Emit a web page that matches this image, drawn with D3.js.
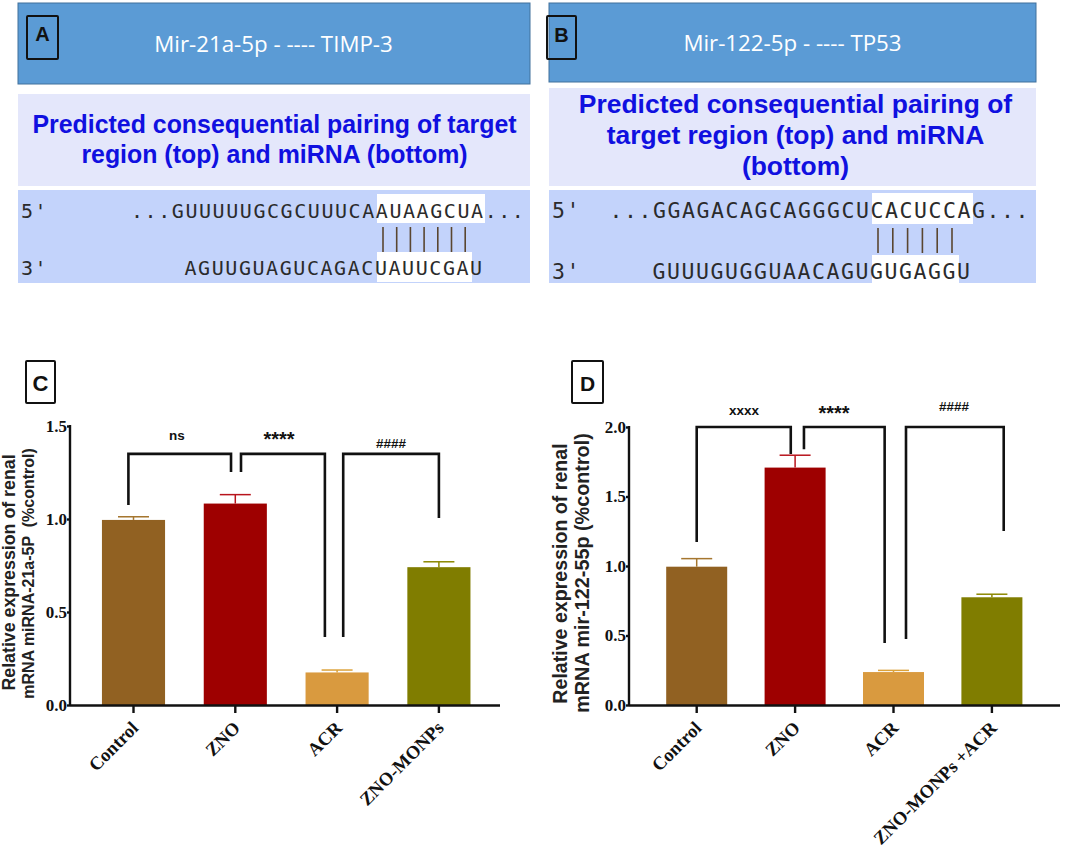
<!DOCTYPE html>
<html>
<head>
<meta charset="utf-8">
<style>
html, body { margin: 0; padding: 0; background: #fff; }
svg { display: block; }
</style>
<script src="https://cdn.jsdelivr.net/npm/d3@7"></script>
</head>
<body>
<script>
// chart values
const categoriesC = ["Control", "ZNO", "ACR", "ZNO-MONPs"];
const valuesC = [0.995, 1.083, 0.175, 0.741];
const errorTopsC = [1.012, 1.131, 0.188, 0.77];
const yTicksC = [0, 0.5, 1, 1.5];

const categoriesD = ["Control", "ZNO", "ACR", "ZNO-MONPs +ACR"];
const valuesD = [0.995, 1.708, 0.237, 0.775];
const errorTopsD = [1.053, 1.797, 0.249, 0.797];
const yTicksD = [0, 0.5, 1, 1.5, 2];

// brackets: [left index, right index, top value, left end value, right end value, label]
const bracketsC = [
    [-0.05, 0.958, 1.35, 1.075, 1.253, "ns"],
    [1.056, 1.88, 1.35, 1.253, 0.366, "****"],
    [2.06, 3.0, 1.35, 0.366, 1.005, "####"]
];
const bracketsD = [
    [0, 0.956, 2.0, 1.173, 1.806, "xxxx"],
    [1.09, 1.91, 2.0, 1.84, 0.446, "****"],
    [2.127, 3.12, 2.0, 0.475, 1.252, "####"]
];

const barColors = ["#916122", "#9e0000", "#d99a3f", "#807d00"];
const errorColors = ["#a5762f", "#b8141c", "#dca23a", "#8c8800"];

const svg = d3.select("body").append("svg").attr("width", 1065).attr("height", 849);

function drawHeader(x, w, y, h, title, titleX, titleY) {
    svg.append("rect").attr("x", x).attr("y", y).attr("width", w).attr("height", h)
        .attr("fill", "#5b9bd5").attr("stroke", "#41719c").attr("stroke-width", 1);
    svg.append("text").attr("x", titleX).attr("y", titleY)
        .attr("text-anchor", "middle")
        .attr("font-family", "'Open Sans'")
        .attr("font-size", 22.3)
        .attr("fill", "#fff")
        .text(title);
}

function drawPrediction(x, w, y, h, lines, cx, baselines, size) {
    svg.append("rect").attr("x", x).attr("y", y).attr("width", w).attr("height", h).attr("fill", "#e4e7fb");
    lines.forEach(function(line, i) {
        svg.append("text").attr("x", cx).attr("y", baselines[i])
            .attr("text-anchor", "middle")
            .attr("font-family", "'Liberation Sans'")
            .attr("font-weight", "bold")
            .attr("font-size", size)
            .attr("fill", "#1010e0")
            .text(line);
    });
}

// sequence strip with the two strands and the highlighted seed region
function drawSequence(s) {
    svg.append("rect").attr("x", s.x).attr("y", 190).attr("width", s.w).attr("height", 93).attr("fill", "#c3d3fb");
    s.highlights.forEach(function(r) {
        svg.append("rect").attr("x", r[0]).attr("y", r[1]).attr("width", r[2]).attr("height", r[3]).attr("fill", "#fff");
    });
    const mono = function(sel) {
        return sel.attr("font-family", "'DejaVu Sans Mono'")
            .attr("font-size", s.size)
            .attr("fill", "#2b2b2b")
            .style("letter-spacing", s.spacing + "px");
    };
    mono(svg.append("text")).attr("x", s.x + 3).attr("y", 218).text("5'");
    mono(svg.append("text")).attr("x", s.x + 3).attr("y", s.y3).text("3'");
    mono(svg.append("text")).attr("x", s.topX).attr("y", 218).text(s.top);
    mono(svg.append("text")).attr("x", s.bottomX).attr("y", s.y3).text(s.bottom);
    svg.selectAll(null).data(d3.range(s.pairs)).join("line")
        .attr("x1", (d) => s.pairX + d * s.pairStep)
        .attr("x2", (d) => s.pairX + d * s.pairStep)
        .attr("y1", s.pairY)
        .attr("y2", s.pairY + 25)
        .attr("stroke", "#5a4630")
        .attr("stroke-width", 1.6);
}

function drawLetterBox(x, y, w, h, letter, size, baseline) {
    svg.append("rect").attr("x", x).attr("y", y).attr("width", w).attr("height", h)
        .attr("fill", "none").attr("stroke", "#111").attr("stroke-width", 2).attr("rx", 1);
    svg.append("text").attr("x", x + w / 2).attr("y", baseline)
        .attr("text-anchor", "middle")
        .attr("font-family", "'Liberation Sans'")
        .attr("font-weight", "bold")
        .attr("font-size", size)
        .attr("fill", "#111")
        .text(letter);
}

function drawChart(c) {
    const g = svg.append("g");
    const n = c.categories.length;
    const x = d3.scaleBand().domain(c.categories)
        .range([c.first - c.step / 2, c.first + c.step * (n - 0.5)])
        .paddingInner(c.pad).paddingOuter(c.pad / 2);
    // same positions, but by category index, for the brackets
    const xIndex = d3.scaleLinear().domain([0, n - 1]).range([c.first, c.first + c.step * (n - 1)]);
    const y = d3.scaleLinear().domain([0, c.yMax]).range([705, c.yTop]);

    g.selectAll(".bar").data(c.values).join("rect")
        .attr("class", "bar")
        .attr("x", (d, i) => x(c.categories[i]))
        .attr("y", (d) => y(d))
        .attr("width", x.bandwidth())
        .attr("height", (d) => y(0) - y(d))
        .attr("fill", (d, i) => barColors[i]);

    // error bars, upper side only
    const centre = (i) => x(c.categories[i]) + x.bandwidth() / 2;
    g.selectAll(".err").data(c.errors).join("line")
        .attr("class", "err")
        .attr("x1", (d, i) => centre(i)).attr("x2", (d, i) => centre(i))
        .attr("y1", (d, i) => y(c.values[i])).attr("y2", (d) => y(d))
        .attr("stroke", (d, i) => errorColors[i]).attr("stroke-width", 1.5);
    g.selectAll(".cap").data(c.errors).join("line")
        .attr("class", "cap")
        .attr("x1", (d, i) => centre(i) - 15.5).attr("x2", (d, i) => centre(i) + 15.5)
        .attr("y1", (d) => y(d)).attr("y2", (d) => y(d))
        .attr("stroke", (d, i) => errorColors[i]).attr("stroke-width", 1.5);

    // axes
    const yAxis = g.append("g").attr("transform", "translate(" + c.axisX + ",0)")
        .call(d3.axisLeft(y).tickValues(c.yTicks).tickFormat(d3.format(".1f")).tickSize(3).tickPadding(0));
    const xAxis = g.append("g").attr("transform", "translate(0,705)")
        .call(d3.axisBottom(x).tickSize(8).tickSizeOuter(0));
    [yAxis, xAxis].forEach(function(a) {
        a.select(".domain").remove();
        a.selectAll("line").attr("stroke", "#111").attr("stroke-width", 2.4);
        a.selectAll("text")
            .attr("font-family", "'Liberation Serif'")
            .attr("font-weight", "bold")
            .attr("fill", "#111");
    });
    yAxis.selectAll("text").attr("font-size", 17).attr("dy", "0.3em");
    xAxis.selectAll("text")
        .attr("font-size", 18.5)
        .attr("text-anchor", "end")
        .attr("dy", null)
        .attr("transform", "translate(6,24) rotate(-45)")
        .attr("y", 0).attr("x", 0);
    g.append("line").attr("x1", c.axisX).attr("x2", c.axisEnd).attr("y1", 705.5).attr("y2", 705.5)
        .attr("stroke", "#111").attr("stroke-width", 2.4);
    g.append("line").attr("x1", c.axisX).attr("x2", c.axisX).attr("y1", c.yTop - 1).attr("y2", 706)
        .attr("stroke", "#111").attr("stroke-width", 2.4);

    // significance brackets
    const bracket = d3.line();
    g.selectAll(".bracket").data(c.brackets).join("path")
        .attr("class", "bracket")
        .attr("fill", "none")
        .attr("stroke", "#111")
        .attr("stroke-width", 2.6)
        .attr("d", (b) => bracket([
            [xIndex(b[0]), y(b[3])],
            [xIndex(b[0]), y(b[2])],
            [xIndex(b[1]), y(b[2])],
            [xIndex(b[1]), y(b[4])]
        ]));
    g.selectAll(".sig").data(c.brackets).join("text")
        .attr("class", "sig")
        .attr("x", (b, i) => c.sigPos[i][0])
        .attr("y", (b, i) => c.sigPos[i][1])
        .attr("text-anchor", "middle")
        .attr("font-family", "'Liberation Sans'")
        .attr("font-weight", "bold")
        .attr("font-size", (b) => b[5] == "****" ? 20 : 13.5)
        .attr("fill", "#111")
        .text((b) => b[5]);

    // two-line rotated y title
    c.yTitle.forEach(function(t) {
        g.append("text")
            .attr("transform", "translate(" + t.x + "," + t.y + ") rotate(-90)")
            .attr("text-anchor", "middle")
            .attr("font-family", "'Liberation Sans'")
            .attr("font-weight", "bold")
            .attr("font-size", t.size)
            .attr("fill", "#222")
            .style("white-space", "pre")
            .text(t.text);
    });
}

// panel A
drawHeader(18, 512, 3, 81, "Mir-21a-5p - ---- TIMP-3", 273.5, 52);
drawPrediction(18, 512, 94, 92, ["Predicted consequential pairing of target", "region (top) and miRNA (bottom)"], 274.5, [133, 162.7], 24.9);
drawSequence({
    x: 18, w: 512, size: 20, spacing: 1.56, y3: 275,
    top: "...GUUUUUGCGCUUUCAAUAAGCUA...", topX: 131,
    bottom: "AGUUGUAGUCAGACUAUUCGAU", bottomX: 184.5,
    highlights: [[377, 194, 108, 29], [377, 252, 95, 30]],
    pairs: 7, pairX: 383, pairStep: 13.7, pairY: 227
});
drawLetterBox(27, 16, 31, 43, "A", 20, 40.7);

// panel B
drawHeader(549, 487, 3, 79, "Mir-122-5p - ---- TP53", 792.5, 50.7);
drawPrediction(549, 487, 88, 98, ["Predicted consequential pairing of", "target region (top) and miRNA", "(bottom)"], 795.5, [113, 144, 175], 26.45);
drawSequence({
    x: 549, w: 487, size: 21.5, spacing: 1.56, y3: 279,
    top: "...GGAGACAGCAGGGCUCACUCCAG...", topX: 609.5,
    bottom: "GUUUGUGGUAACAGUGUGAGGU", bottomX: 652.5,
    highlights: [[872, 193, 101, 31], [872, 255, 87, 28]],
    pairs: 6, pairX: 878, pairStep: 14.8, pairY: 228
});
drawLetterBox(547, 16, 29, 43, "B", 20, 41.7);

// panel C
drawLetterBox(26, 361, 29, 42, "C", 22, 391);
drawChart({
    categories: categoriesC, values: valuesC, errors: errorTopsC, yTicks: yTicksC,
    first: 133.5, step: 101.8, pad: 0.38, yMax: 1.5, yTop: 426,
    axisX: 70, axisEnd: 500,
    brackets: bracketsC,
    sigPos: [[177, 440], [279, 446], [391, 448]],
    yTitle: [
        { x: 15, y: 572.5, size: 17.8, text: "Relative expression of renal" },
        { x: 34, y: 573.5, size: 16, text: "mRNA miRNA-21a-5P  (%control)" }
    ]
});

// panel D
drawLetterBox(572, 361, 31, 42, "D", 21, 391);
drawChart({
    categories: categoriesD, values: valuesD, errors: errorTopsD, yTicks: yTicksD,
    first: 696.7, step: 98.4, pad: 0.38, yMax: 2, yTop: 427,
    axisX: 629, axisEnd: 1060,
    brackets: bracketsD,
    sigPos: [[744, 415], [834, 420], [954, 411]],
    yTitle: [
        { x: 567, y: 573.5, size: 19.6, text: "Relative expression of renal" },
        { x: 589, y: 573, size: 19.8, text: "mRNA mir-122-55p (%control)" }
    ]
});
</script>
</body>
</html>
